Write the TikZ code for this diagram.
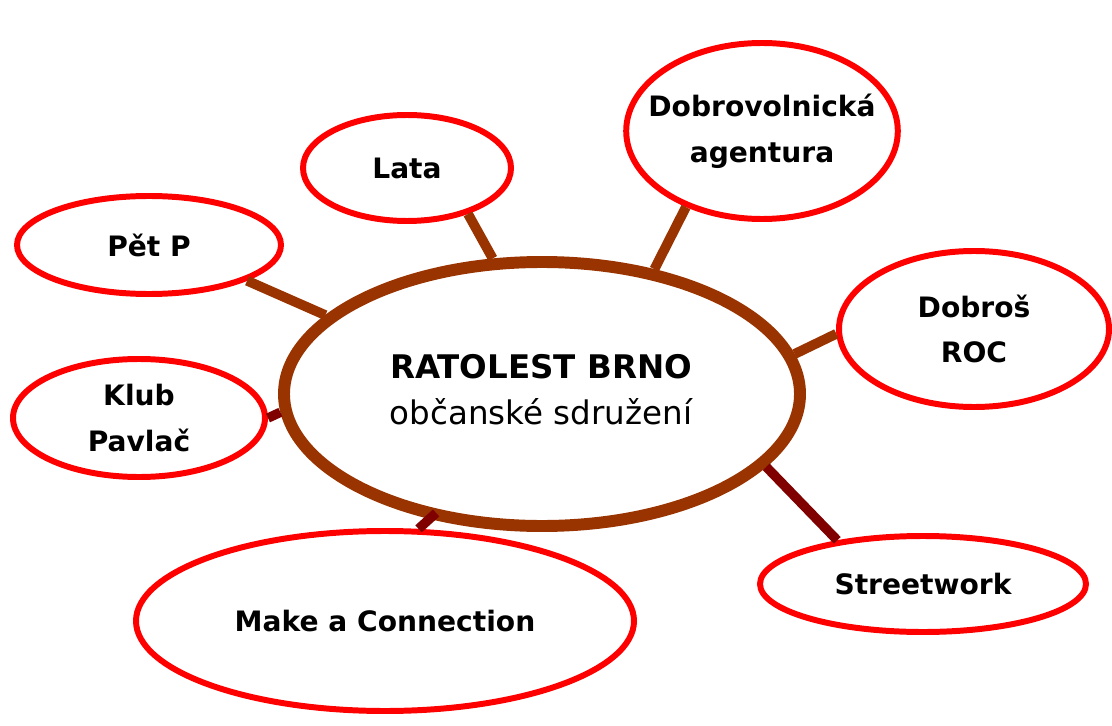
\documentclass[tikz,border=0pt]{standalone}
\usepackage{fontspec}
\setmainfont{DejaVu Sans}
\usepackage{tikz}
\usetikzlibrary{shapes.geometric}
\usepackage{xcolor}
\definecolor{rbrown}{HTML}{993300}
\definecolor{rdark}{HTML}{800000}
\definecolor{rred}{HTML}{FF0000}

\begin{document}
\begin{tikzpicture}[x=0.02cm,y=-0.02cm,
    hub/.style={ellipse, draw=rbrown, line width=6.8pt, fill=white, inner sep=0pt},
    leaf/.style={ellipse, draw=rred, line width=3.4pt, fill=white, inner sep=0pt, align=center,
        font=\fontsize{16}{26}\selectfont\bfseries},
    link/.style={rbrown, line width=5.6pt},
    darklink/.style={rdark, line width=5.4pt}]
\useasboundingbox (0,0) rectangle (1112,726);
% center
\node[hub, minimum width=516*0.02cm, minimum height=264*0.02cm] (main) at (542,394) {};
\node[align=center, font=\fontsize{18.5}{26}\selectfont] (maintext) at (541,390)
    {\textbf{RATOLEST BRNO}\\občanské sdružení};
% satellites
\node[leaf, minimum width=264*0.02cm, minimum height=98*0.02cm] (petp) at (149,245) {Pět P};
\node[leaf, minimum width=208*0.02cm, minimum height=106*0.02cm] (lata) at (407,168) {Lata};
\node[leaf, inner xsep=-10pt, minimum width=270*0.02cm, minimum height=176*0.02cm] (dobrov) at (762,131) {Dobrovolnická\\agentura};
\node[leaf, minimum width=270*0.02cm, minimum height=156*0.02cm] (dobros) at (974,329) {Dobroš\\ROC};
\node[leaf, minimum width=252*0.02cm, minimum height=118*0.02cm] (klub) at (139,418) {Klub\\Pavlač};
\node[leaf, minimum width=498*0.02cm, minimum height=180*0.02cm] (make) at (385,621) {Make a Connection};
\node[leaf, minimum width=326*0.02cm, minimum height=96*0.02cm] (street) at (923,584) {Streetwork};
% links
\draw[link] (main.160) -- (petp.340);
\draw[link] (main.110) -- (lata.323);
\draw[link] (main.48) -- (dobrov.225);
\draw[link] (main.9) -- (dobros.182);
\draw[darklink] (main.184) -- (klub.0);
\draw[darklink, shorten <=-5pt] (main.228) -- (make.70);
\draw[darklink] (main.342) -- (street.153);
\end{tikzpicture}
\end{document}
